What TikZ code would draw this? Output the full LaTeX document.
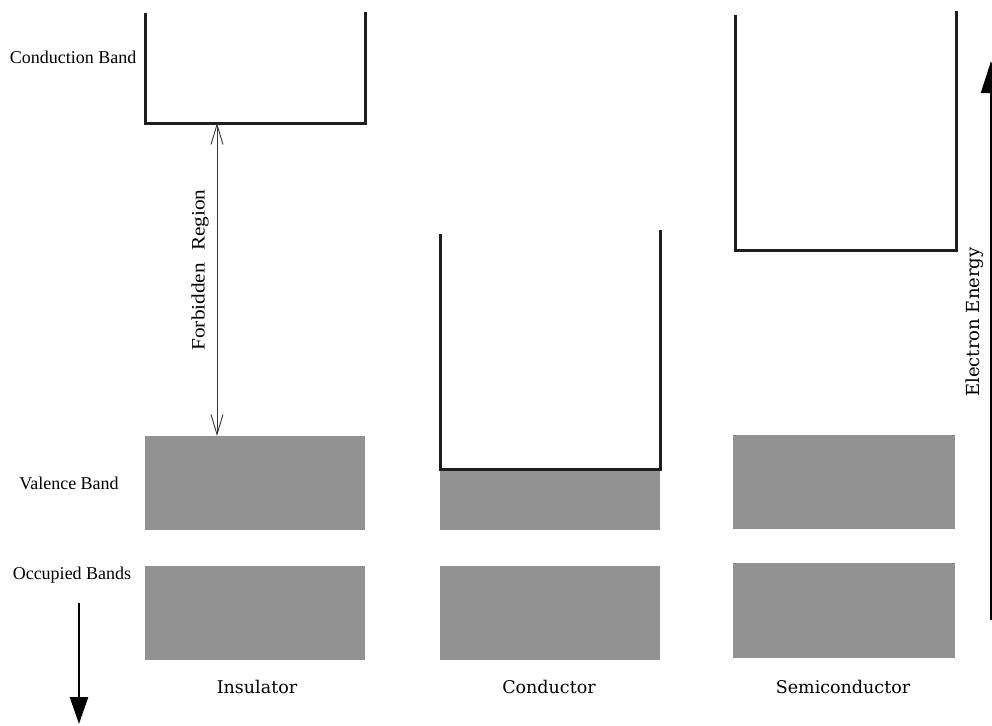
\documentclass[tikz,border=0pt]{standalone}
\usepackage{fontspec}
\setmainfont{Liberation Serif}
\newfontfamily\labelfont{DejaVu Serif}
\usetikzlibrary{arrows.meta}
\definecolor{bandgray}{RGB}{146,146,146}
\definecolor{edgeblack}{RGB}{30,30,30}
\tikzset{
  bandbox/.style={rectangle, fill=bandgray, draw=none, inner sep=0pt, minimum width=220pt, minimum height=94pt},
  ushape/.style={draw=edgeblack, line width=3pt, line join=miter},
  sidelabel/.style={font=\fontsize{18}{20}\selectfont, inner sep=0pt},
  matlabel/.style={font=\labelfont\fontsize{17.5}{20}\selectfont, inner sep=0pt},
  gaparrow/.style={draw=edgeblack!90, line width=0.9pt, {Straight Barb[length=20pt,width=12pt,line width=0.9pt]}-{Straight Barb[length=20pt,width=12pt,line width=0.9pt]}},
  bigarrow/.style={draw=black, line width=2.6pt, -{Triangle[length=27pt,width=18pt]}}
}
\begin{document}
\begin{tikzpicture}[x=1pt,y=-1pt]
\useasboundingbox (0,0) rectangle (992,725);
% Insulator
\draw[ushape] (145,13) -- (145,123) -- (365,123) -- (365,12);
\node[bandbox] (insval) at (255,483) {};
\node[bandbox] (insocc) at (255,613) {};
\coordinate (gaptop) at (217,123);
\coordinate (gapbot) at (217,436);
\draw[gaparrow] (gapbot) -- (gaptop);
\node[sidelabel, rotate=90] (forb) at (200,270) {\scalebox{1.12}[1]{\fontsize{19}{21}\selectfont Forbidden\hspace{6pt} Region}};
% Conductor
\node[bandbox, minimum height=61pt] (conval) at (550,499.5) {};
\node[bandbox] (conocc) at (550,613) {};
\draw[ushape] (440,234) -- (440,469) -- (660,469) -- (660,230);
% Semiconductor
\draw[ushape] (735,15) -- (735,250) -- (956,250) -- (956,11);
\node[bandbox, minimum width=222pt] (semval) at (844,482) {};
\node[bandbox, minimum width=222pt, minimum height=95pt] (semocc) at (844,610.5) {};
% side labels
\node[sidelabel] (lcb) at (73,57) {Conduction Band};
\node[sidelabel] (lvb) at (69,483) {Valence Band};
\node[sidelabel] (lob) at (72,575) {Occupied Bands};
% material labels
\node[matlabel] (lins) at (257,687) {Insulator};
\node[matlabel] (lcon) at (549,687) {Conductor};
\node[matlabel] (lsem) at (843,687) {Semiconductor};
% arrows
\coordinate (downstart) at (79,603);
\coordinate (downend) at (79,724);
\draw[bigarrow] (downstart) -- (downend);
\coordinate (upstart) at (991,620);
\coordinate (upend) at (991,61);
\draw[draw=black, line width=2pt, -{Triangle[length=32pt,width=20pt]}] (upstart) -- (upend);
\node[matlabel, rotate=90, font=\labelfont\fontsize{18}{20}\selectfont] (lee) at (975,322) {Electron Energy};
\end{tikzpicture}
\end{document}
